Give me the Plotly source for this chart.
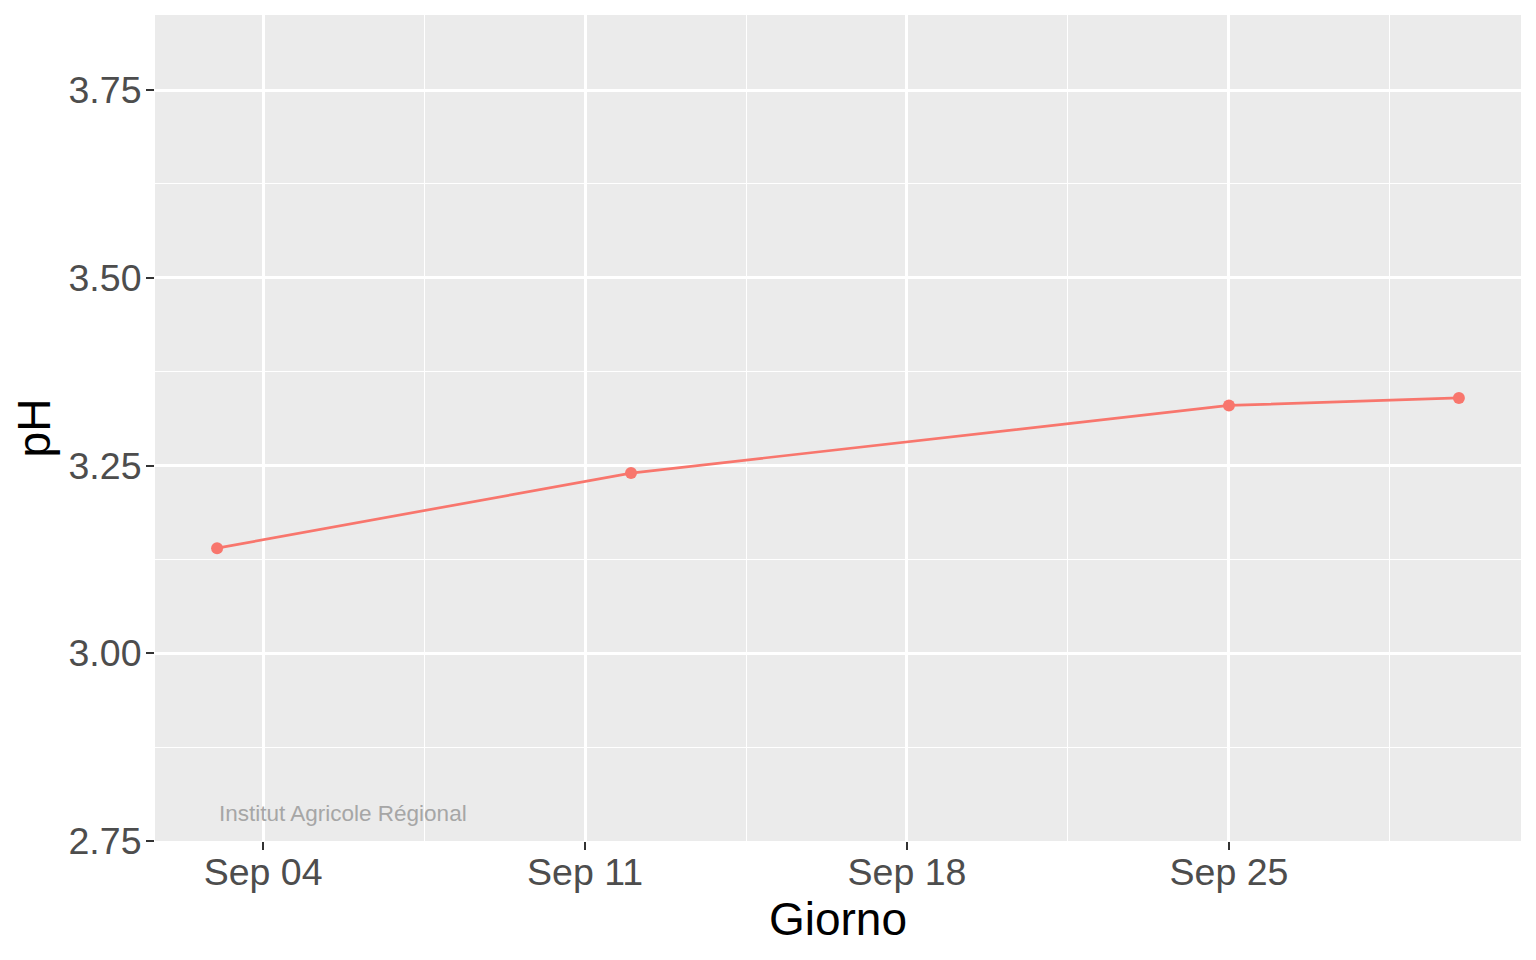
import plotly.graph_objects as go

dates = ["2023-09-03", "2023-09-12", "2023-09-25", "2023-09-30"]
ph = [3.14, 3.24, 3.33, 3.34]
y_ticks = [2.75, 3.00, 3.25, 3.50, 3.75]
y_tick_labels = ["2.75", "3.00", "3.25", "3.50", "3.75"]
x_ticks = ["2023-09-04", "2023-09-11", "2023-09-18", "2023-09-25"]
x_tick_labels = ["Sep 04", "Sep 11", "Sep 18", "Sep 25"]
credit = "Institut Agricole Régional"

FONT = "Liberation Sans, Arial, Helvetica, sans-serif"
COL = "#F8766D"

fig = go.Figure()
fig.add_trace(go.Scatter(
    x=dates, y=ph, mode="lines+markers",
    line=dict(color=COL, width=2.7),
    marker=dict(color=COL, size=12),
    showlegend=False, hoverinfo="x+y",
))

fig.add_annotation(
    x=dates[0], y=2.787, text=credit, showarrow=False,
    xanchor="left", yanchor="middle", xref="x", yref="y",
    font=dict(family=FONT, size=22.5, color="#A6A6A6"),
)

fig.update_layout(
    width=1528, height=952,
    margin=dict(l=147, r=15, t=7, b=119),
    paper_bgcolor="white", plot_bgcolor="#EBEBEB",
    font=dict(family=FONT, color="#4D4D4D"),
    xaxis=dict(
        type="date",
        range=["2023-09-01 15:36", "2023-10-01 08:24"],
        tickmode="array", tickvals=x_ticks, ticktext=x_tick_labels,
        ticks="outside", ticklen=8, tickwidth=2, tickcolor="#333333",
        ticklabelstandoff=-10,
        tickfont=dict(family=FONT, size=37.5, color="#4D4D4D"),
        showgrid=True, gridcolor="white", gridwidth=2.7,
        minor=dict(tickmode="array",
                   tickvals=["2023-09-07 12:00", "2023-09-14 12:00",
                             "2023-09-21 12:00", "2023-09-28 12:00"],
                   showgrid=True, gridcolor="white", gridwidth=1.4, ticks=""),
        zeroline=False, showline=False,
        title=dict(text="Giorno", font=dict(family=FONT, size=46, color="black"), standoff=8),
    ),
    yaxis=dict(
        range=[2.75, 3.85],
        tickmode="array", tickvals=y_ticks, ticktext=y_tick_labels,
        ticks="outside", ticklen=8, tickwidth=2, tickcolor="#333333",
        ticklabelstandoff=-3,
        tickfont=dict(family=FONT, size=37.5, color="#4D4D4D"),
        showgrid=True, gridcolor="white", gridwidth=2.7,
        minor=dict(tickmode="array", tickvals=[2.875, 3.125, 3.375, 3.625],
                   showgrid=True, gridcolor="white", gridwidth=1.4, ticks=""),
        zeroline=False, showline=False,
        title=dict(text="pH", font=dict(family=FONT, size=46, color="black"), standoff=7),
    ),
)

fig.write_html("out.html")
